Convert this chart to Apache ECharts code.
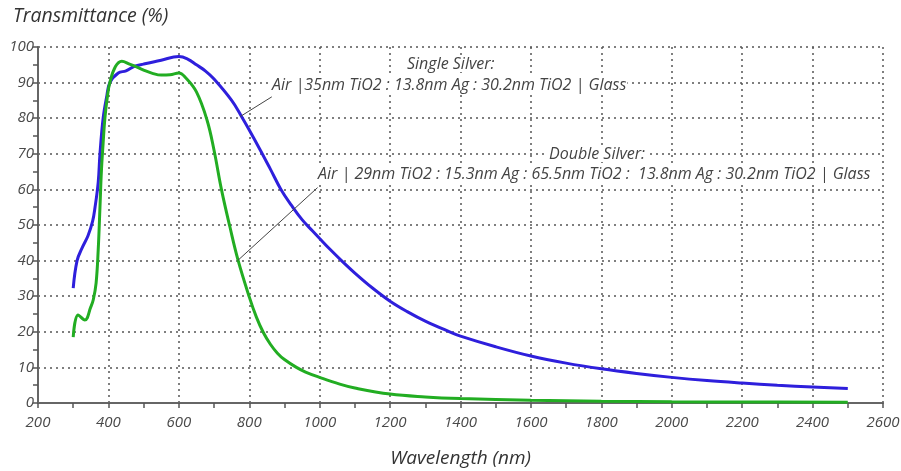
<!DOCTYPE html>
<html>
<head>
<meta charset="utf-8">
<script src="https://cdn.jsdelivr.net/npm/echarts@6/dist/echarts.min.js"></script>
<style>
html,body{margin:0;padding:0;background:#fff;}
#chart{width:901px;height:471px;}
</style>
</head>
<body>
<div id="chart"></div>
<script>
// Single Silver (blue)
const singleX = [300,311,325,342,355,362,371,376,385,395,404,428,450,475,500,550,600,625,650,675,700,750,778,800,830,860,890,920,950,980,1000,1030,1062,1100,1150,1200,1250,1300,1369,1400,1500,1600,1700,1800,1900,2000,2100,2200,2300,2400,2500];
const singleY = [32.3,40,43.5,47,51,55,62,70,80,86,90,92.7,93.3,94.6,95.2,96.3,97.3,96.6,95,93.3,91,85,80.5,76.7,71.3,65.7,60,55.5,51.5,48.3,46.2,43.1,40,36.5,32.3,28.6,25.6,23,20,18.8,15.8,13.2,11.2,9.6,8.3,7.2,6.3,5.6,5.0,4.5,4.05];
// Double Silver (green)
const doubleX = [300,314,333,350,357,365,371,376,380,385,390,397,404,420,438,460,475,500,525,550,575,600,620,650,680,700,721,745,768,800,820,840,860,880,900,934,960,1000,1057,1100,1200,1300,1400,1600,1800,2000,2200,2500];
const doubleY = [18.5,24.7,23.3,27,29,33.7,43,55,65,73,80,86,90,94.5,96,95.2,94.6,93.5,92.6,92.1,92.2,92.7,91.3,87.4,79.5,71,60,49.5,40.2,29.8,24.2,19.8,16.5,14,12.2,10,8.7,7.2,5.3,4.2,2.5,1.7,1.25,0.75,0.5,0.35,0.28,0.2];
// axis ticks
const xTicks = [200,400,600,800,1000,1200,1400,1600,1800,2000,2200,2400,2600];
const yTicks = [0,10,20,30,40,50,60,70,80,90,100];
// annotations
const singleTitle = 'Single Silver:';
const singleLabel = 'Air |35nm TiO2 : 13.8nm Ag : 30.2nm TiO2 | Glass';
const doubleTitle = 'Double Silver:';
const doubleLabel = 'Air | 29nm TiO2 : 15.3nm Ag : 65.5nm TiO2 :  13.8nm Ag : 30.2nm TiO2 | Glass';
const singleLeader = [[775, 80.5], [864, 86]];
const doubleLeader = [[767, 40], [994, 60.5]];

const FONT = '"Open Sans"';
const chart = echarts.init(document.getElementById('chart'), null, {renderer: 'canvas'});
const pairs = (xs, ys) => xs.map((x, i) => [x, ys[i]]);
const leader = (pts) => ({
  silent: true, symbol: 'none', label: {show: false},
  lineStyle: {color: '#444', width: 1, type: 'solid'},
  data: [[{coord: pts[0]}, {coord: pts[1]}]]
});
const labelStyle = {fontFamily: FONT, fontStyle: 'italic', fontSize: 15, color: '#4a4a4a', formatter: v => String(v)};
const annoStyle = {fontFamily: FONT, fontStyle: 'italic', fontSize: 16, fill: '#444', backgroundColor: '#fff', padding: [0, 1]};

chart.setOption({
  animation: false,
  backgroundColor: '#fff',
  title: {
    text: 'Transmittance (%)', left: 8, top: 1,
    textStyle: {fontFamily: FONT, fontStyle: 'italic', fontWeight: 'normal', fontSize: 19.5, color: '#333'}
  },
  grid: {left: 38, right: 18, top: 47, bottom: 68, containLabel: false, outerBoundsMode: 'none'},
  xAxis: {
    type: 'value', min: xTicks[0], max: xTicks[xTicks.length - 1], interval: xTicks[1] - xTicks[0],
    name: 'Wavelength (nm)', nameLocation: 'middle', nameGap: 46,
    nameTextStyle: {fontFamily: FONT, fontStyle: 'italic', fontSize: 19, color: '#333'},
    axisLine: {lineStyle: {color: '#666', width: 2}},
    axisTick: {show: true, length: 5, lineStyle: {color: '#555', width: 1.5}},
    minorTick: {show: true, splitNumber: 2, length: 5, lineStyle: {color: '#555', width: 1.5}},
    axisLabel: Object.assign({margin: 12}, labelStyle),
    splitLine: {show: true, showMinLine: false, lineStyle: {color: '#555', width: 1.5, type: [2, 4]}}
  },
  yAxis: {
    type: 'value', min: yTicks[0], max: yTicks[yTicks.length - 1], interval: yTicks[1] - yTicks[0],
    axisLine: {show: true, lineStyle: {color: '#666', width: 2}},
    axisTick: {show: true, length: 5, lineStyle: {color: '#555', width: 1.5}},
    minorTick: {show: true, splitNumber: 2, length: 5, lineStyle: {color: '#555', width: 1.5}},
    axisLabel: Object.assign({margin: 4}, labelStyle),
    splitLine: {show: true, showMinLine: false, lineStyle: {color: '#555', width: 1.5, type: [2, 4]}}
  },
  series: [
    {
      name: 'Single Silver', type: 'line', data: pairs(singleX, singleY),
      showSymbol: false, smooth: 0.4,
      lineStyle: {color: '#2e1fdc', width: 3}, itemStyle: {color: '#2e1fdc'},
      markLine: leader(singleLeader), z: 3
    },
    {
      name: 'Double Silver', type: 'line', data: pairs(doubleX, doubleY),
      showSymbol: false, smooth: 0.4,
      lineStyle: {color: '#22ad22', width: 3}, itemStyle: {color: '#22ad22'},
      markLine: leader(doubleLeader), z: 4
    }
  ],
  graphic: [
    {type: 'text', z: 100, left: 406, top: 56, style: Object.assign({text: singleTitle}, annoStyle)},
    {type: 'text', z: 100, left: 271, top: 77, style: Object.assign({text: singleLabel}, annoStyle)},
    {type: 'text', z: 100, left: 548, top: 146, style: Object.assign({text: doubleTitle}, annoStyle)},
    {type: 'text', z: 100, left: 317, top: 166, style: Object.assign({text: doubleLabel}, annoStyle)}
  ]
});
</script>
</body>
</html>
